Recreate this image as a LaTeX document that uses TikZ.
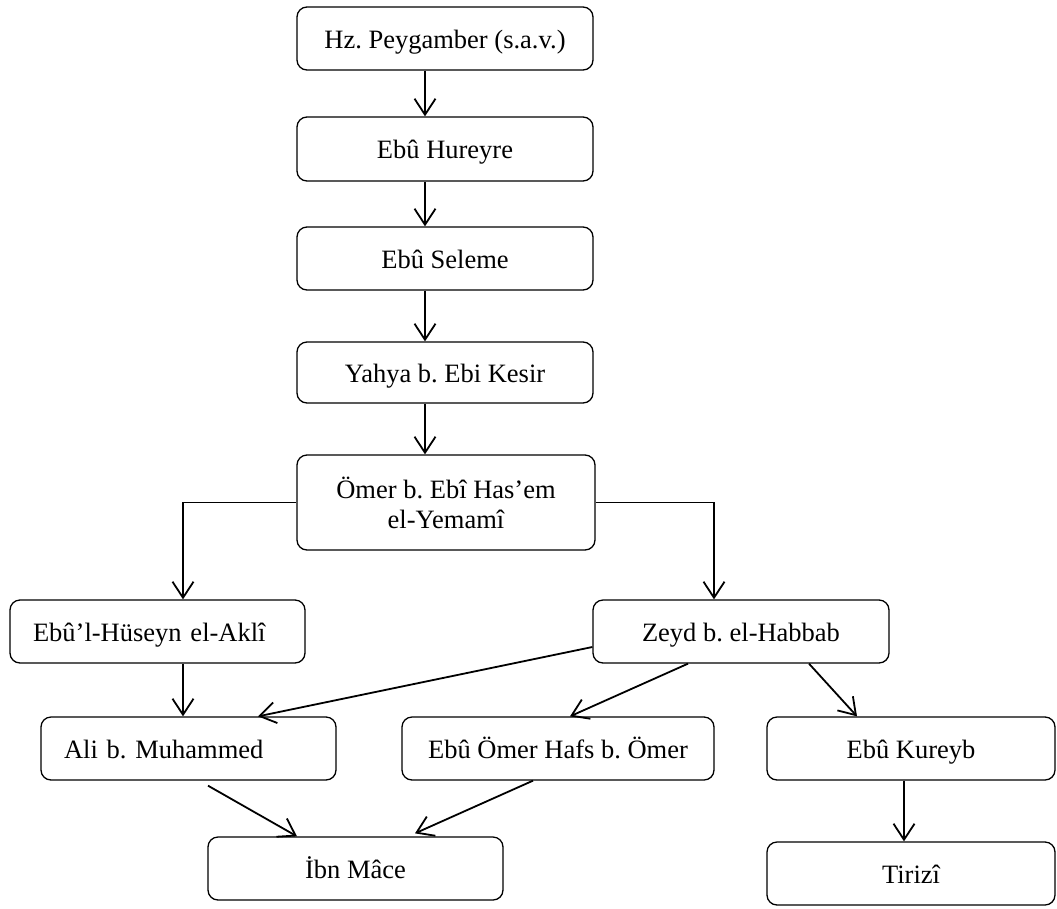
\documentclass[tikz,border=0pt]{standalone}
\usepackage{fontspec}
\setmainfont{Liberation Serif}
\usetikzlibrary{arrows.meta,calc}
\tikzset{
  box/.style={draw, line width=1.3pt, rounded corners=10pt, inner sep=0pt, align=center,
    text height=25pt, text depth=6pt,
    font=\fontsize{26.5}{30}\selectfont\frenchspacing},
  lbox/.style={box, align=left, inner xsep=23pt},
  arr/.style={line width=1.8pt, -{Straight Barb[length=16pt,width=21pt,line width=1.8pt]}},
}
\begin{document}
\begin{tikzpicture}[x=1pt,y=-1pt]
\useasboundingbox (0,0) rectangle (1057,908);
% central column
\node[box, minimum width=296, minimum height=63] (b1) at (445,38.5) {Hz. Peygamber (s.a.v.)};
\node[box, minimum width=296, minimum height=64] (b2) at (445,149) {Ebû Hureyre};
\node[box, minimum width=296, minimum height=63] (b3) at (445,258.5) {Ebû Seleme};
\node[box, minimum width=296, minimum height=61] (b4) at (445,372.5) {Yahya b. Ebi Kesir};
\node[box, text height={}, text depth={}, minimum width=298, minimum height=95] (b5) at (446,502.5) {Ömer b. Ebî Has’em\\el-Yemamî};
% second level
\node[lbox, text width=249, minimum height=63] (hus) at (157.5,631.5) {Ebû’l-Hüseyn el-Aklî};
\node[box, minimum width=296, minimum height=63] (zeyd) at (741,631.5) {Zeyd b. el-Habbab};
% third level
\node[lbox, text width=249, minimum height=63] (ali) at (188.5,748.5) {Ali b. Muhammed};
\node[box, minimum width=312, minimum height=63] (hafs) at (558,748.5) {Ebû Ömer Hafs b. Ömer};
\node[box, minimum width=288, minimum height=63] (kur) at (911,748.5) {Ebû Kureyb};
% bottom
\node[box, minimum width=295, minimum height=63] (ibn) at (355.5,868.5) {İbn Mâce};
\node[box, minimum width=288, minimum height=63] (tir) at (911,873.5) {Tirizî};
% guide coordinates
\coordinate (ax) at (425,0);
\coordinate (lx) at (183,0);
\coordinate (rx) at (714,0);
% connectors
\draw[arr] (b1.south -| ax) -- (b2.north -| ax);
\draw[arr] (b2.south -| ax) -- (b3.north -| ax);
\draw[arr] (b3.south -| ax) -- (b4.north -| ax);
\draw[arr] (b4.south -| ax) -- (b5.north -| ax);
\draw[arr] (b5.west) -| (hus.north -| lx);
\draw[arr] (b5.east) -| (zeyd.north -| rx);
\draw[arr] (hus.south -| lx) -- (ali.north -| lx);
\draw[arr] ($(zeyd.west)+(0,15.5)$) -- ($(ali.north)+(69.5,0)$);
\draw[arr] ($(zeyd.south)+(-53,0)$) -- ($(hafs.north)+(12,0)$);
\draw[arr] ($(zeyd.south)+(68,0)$) -- ($(kur.north)+(-54,0)$);
\draw[arr] ($(kur.south)+(-7,0)$) -- ($(tir.north)+(-7,0)$);
\draw[arr] ($(ali.south)+(19.5,5)$) -- ($(ibn.north)+(-58.5,0)$);
\draw[arr] ($(hafs.south)+(-25,0)$) -- ($(ibn.north)+(59.5,-3)$);
\end{tikzpicture}
\end{document}
